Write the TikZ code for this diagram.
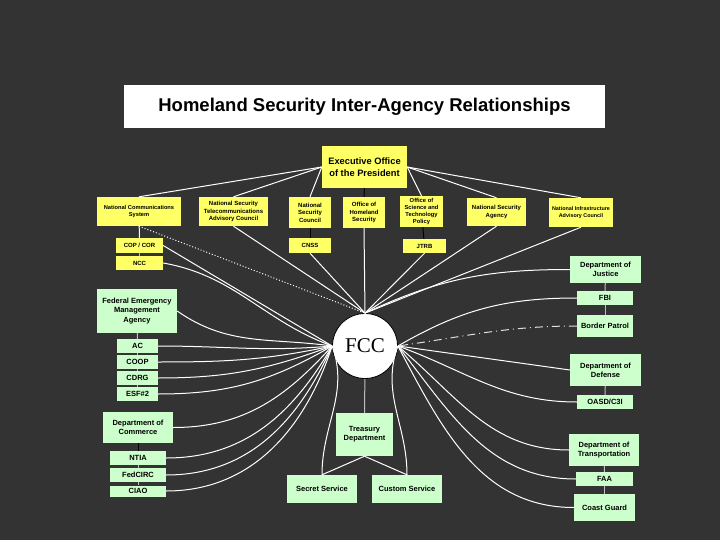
\documentclass[tikz,border=0pt]{standalone}
\usepackage{fontspec}
\setmainfont{Liberation Sans}
\newfontfamily\fccfont{Liberation Serif}
\definecolor{slate}{HTML}{333333}
\definecolor{boxyellow}{HTML}{FFFF66}
\definecolor{boxgreen}{HTML}{CCFFCC}

\begin{document}
\begin{tikzpicture}[x=1pt,y=-1pt,
    wh/.style 2 args={minimum width=#1pt,minimum height=#2pt},
    ybox/.style={fill=boxyellow,inner sep=0pt,align=center,font={\fontsize{6}{7.6}\selectfont\bfseries}},
    gbox/.style={fill=boxgreen,inner sep=0pt,align=center,font={\fontsize{7.5}{9.3}\selectfont\bfseries}},
    link/.style={white,line width=1pt},
    stem/.style={black,line width=1pt},
    tie/.style={black!25,line width=1pt}]
    \fill[slate] (0,0) rectangle (720,540);
    \node[fill=white,wh={481}{43},font={\fontsize{18.5}{20}\selectfont\bfseries}] (title) at (364.5,106.5) {Homeland Security Inter-Agency Relationships};
    \node[ybox,wh={85}{42},font={\fontsize{9.3}{11.5}\selectfont\bfseries}] (exec) at (364.5,167) {Executive Office\\of the President};
    \node[ybox,wh={84}{29},font={\fontsize{5.7}{7.6}\selectfont\bfseries}] (ncs) at (139,211.5) {National Communications\\System};
    \node[ybox,wh={69}{29}] (nstac) at (233.5,211.5) {National Security\\Telecommunications\\Advisory Council};
    \node[ybox,wh={42}{31}] (nsc) at (310,212.5) {National\\Security\\Council};
    \node[ybox,wh={42}{31}] (ohs) at (364,212.5) {Office of\\Homeland\\Security};
    \node[ybox,wh={43}{31},font={\fontsize{5.8}{7}\selectfont\bfseries}] (ostp) at (421.5,211.5) {Office of\\Science and\\Technology\\Policy};
    \node[ybox,wh={59}{28}] (nsa) at (496.5,212) {National Security\\Agency};
    \node[ybox,wh={64}{29},font={\fontsize{5.4}{7.6}\selectfont\bfseries}] (niac) at (581,212.5) {National Infrastructure\\Advisory Council};
    \node[ybox,wh={47}{15}] (cop) at (139.5,245.5) {COP / COR};
    \node[ybox,wh={47}{14}] (ncc) at (139.5,263) {NCC};
    \node[ybox,wh={42}{15}] (cnss) at (310,245.5) {CNSS};
    \node[ybox,wh={43}{14}] (jtrb) at (424.5,246) {JTRB};
    \node[gbox,wh={80}{44}] (fema) at (137,311) {Federal Emergency\\Management\\Agency};
    \node[gbox,wh={41}{14}] (ac) at (137.5,346) {AC};
    \node[gbox,wh={41}{14}] (coop) at (137.5,362) {COOP};
    \node[gbox,wh={41}{14}] (cdrg) at (137.5,378) {CDRG};
    \node[gbox,wh={41}{14}] (esf) at (137.5,394) {ESF\#2};
    \node[gbox,wh={70}{31}] (doc) at (138,427.5) {Department of\\Commerce};
    \node[gbox,wh={56}{14}] (ntia) at (138,458) {NTIA};
    \node[gbox,wh={56}{14}] (fedcirc) at (138,475) {FedCIRC};
    \node[gbox,wh={56}{11}] (ciao) at (138,491) {CIAO};
    \node[gbox,wh={57}{43}] (treas) at (364.5,434.5) {Treasury\\Department};
    \node[gbox,wh={70}{28}] (ss) at (322,489) {Secret Service};
    \node[gbox,wh={70}{28}] (cs) at (407,489) {Custom Service};
    \node[gbox,wh={71}{27}] (doj) at (605.5,269.5) {Department of\\Justice};
    \node[gbox,wh={56}{14}] (fbi) at (605,298) {FBI};
    \node[gbox,wh={56}{22}] (bp) at (605,326) {Border Patrol};
    \node[gbox,wh={71}{32}] (dod) at (605.5,370) {Department of\\Defense};
    \node[gbox,wh={56}{14}] (oasd) at (605,402) {OASD/C3I};
    \node[gbox,wh={70}{32}] (dot) at (604,450) {Department of\\Transportation};
    \node[gbox,wh={57}{14}] (faa) at (604.5,479) {FAA};
    \node[gbox,wh={61}{27}] (cg) at (604.5,507.5) {Coast Guard};
    \node[circle,fill=white,draw=black,line width=0.8pt,minimum size=65pt,inner sep=0pt,font={\fccfont\fontsize{21}{21}\selectfont}] (fcc) at (365,346) {FCC};

    \foreach \a in {ncs,nstac,nsc} \draw[link] (exec.west) -- (\a.north);
    \foreach \a in {ostp,nsa,niac} \draw[link] (exec.east) -- (\a.north);
    \draw[stem] (exec) -- (ohs);
    \draw[stem] (nsc) -- (cnss);
    \draw[stem] (ostp) -- (jtrb);
    \draw[stem] (doc) -- (ntia);
    \draw[link] (ncs) -- (cop);
    \draw[tie] (cop) -- (ncc);
    \foreach \a/\b in {fema/ac,ac/coop,coop/cdrg,cdrg/esf,ntia/fedcirc,fedcirc/ciao,
      doj/fbi,fbi/bp,dod/oasd,dot/faa,faa/cg,fcc/treas}
      \draw[tie] (\a) -- (\b);
    \draw[link] (treas.south) -- (ss.north);
    \draw[link] (treas.south) -- (cs.north);

    \draw[link,dotted] (ncs.south) -- (fcc.north);
    \foreach \a in {nstac,cnss,ohs,jtrb,nsa,niac} \draw[link] (\a.south) -- (fcc.north);
    \draw[link] (doj.west) to[out=180,in=25] (fcc.north);

    \draw[link] (cop.east) -- (fcc.west);
    \draw[link] (ncc.east) to[out=-10,in=160] (fcc.west);
    \draw[link] (fema.east) to[out=-35,in=172] (fcc.west);
    \foreach \a/\i in {ac/185,coop/192,cdrg/200,esf/210,doc/228,ntia/240,fedcirc/246,ciao/252}
      \draw[link] (\a.east) to[out=0,in=\i] (fcc.west);
    \draw[link] (ss.north) to[out=90,in=290] (fcc.west);

    \draw[link] (fbi.west) to[out=180,in=30] (fcc.east);
    \draw[link,white!85!slate,dash pattern=on 8pt off 4pt on 1pt off 4pt] (bp.west) to[out=180,in=8] (fcc.east);
    \draw[link] (dod.west) to[out=172,in=-8] (fcc.east);
    \foreach \a/\i in {oasd/-20,dot/-40,faa/-52,cg/-62}
      \draw[link] (\a.west) to[out=180,in=\i] (fcc.east);
    \draw[link] (cs.north) to[out=90,in=250] (fcc.east);
\end{tikzpicture}
\end{document}
